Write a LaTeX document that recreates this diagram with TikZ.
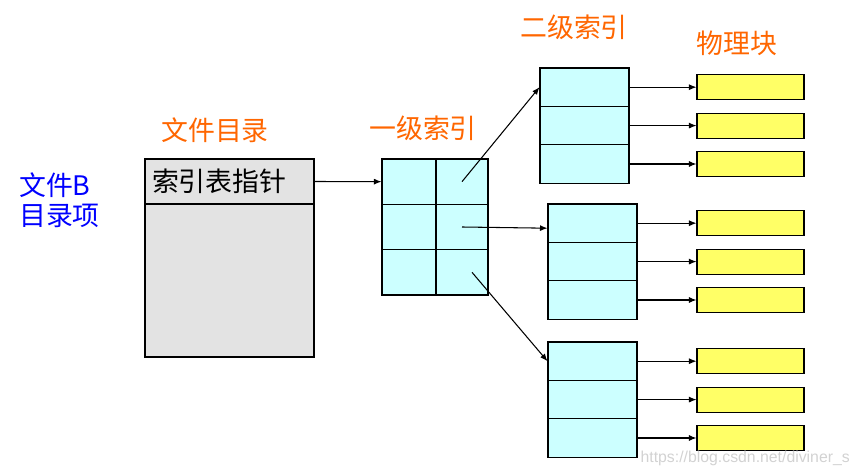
\documentclass[tikz,border=0pt]{standalone}
\usepackage{fontspec}
\newfontfamily\cjk{Noto Sans CJK SC}
\setsansfont{Liberation Sans}
\usetikzlibrary{arrows.meta, positioning}
\definecolor{labelorange}{RGB}{255,102,0}
\definecolor{cellcyan}{RGB}{204,255,255}
\definecolor{blockyellow}{RGB}{255,255,102}
\definecolor{dirgray}{RGB}{227,227,227}
\tikzset{
	cell/.style={draw, fill=cellcyan, line width=0.6pt, inner sep=0pt},
	block/.style={draw, fill=blockyellow, line width=0.6pt, inner sep=0pt,
		minimum width=2.14cm, minimum height=0.5cm},
	dircell/.style={draw, fill=dirgray, line width=0.6pt, inner sep=0pt,
		minimum width=3.38cm},
	title/.style={text=labelorange},
	ptr/.style={-{Latex[length=1.5mm,width=1.2mm]}, line width=0.6pt}
}

\begin{document}
\begin{tikzpicture}[x=0.02cm, y=-0.02cm, font=\cjk\fontsize{15.3}{17}\selectfont]
	\useasboundingbox (0,0) rectangle (865,476);

	% directory entry
	\node[dircell, minimum height=3.06cm] (dirbody) at (229.5,280.5) {};
	\node[dircell, minimum height=0.9cm, text width=3.1cm] (dirtop) at (229.5,181.5) {索引表指针};
	\node[anchor=west, align=left, text=blue] (entry) at (13,200) {文件B\\目录项};

	% first level index
	\foreach \r in {1,2,3} {
		\node[cell, minimum width=1.08cm, minimum height=0.907cm] (la\r) at (409,{159+45.33*(\r-0.5)}) {};
		\node[cell, minimum width=1.04cm, minimum height=0.907cm] (lb\r) at (462,{159+45.33*(\r-0.5)}) {};
	}

	% second level index and physical blocks
	\foreach \g/\x/\y in {a/584.5/68, b/592.5/204, c/592.5/342} {
		\foreach \r in {1,2,3} {
			\node[cell, minimum width=1.78cm, minimum height=0.768cm] (\g\r) at (\x,{\y+38.4*(\r-0.5)}) {};
			\node[block] (\g p\r) at (750.5,{\y+38.4*(\r-0.5)}) {};
			\draw[ptr] (\g\r.east) -- (\g p\r.west);
		}
	}

	% pointers
	\draw[ptr] (dirtop.east) -- (la1.west);
	\draw[ptr] (lb1.center) -- (a1.west);
	\draw[ptr] (lb2.center) -- ([yshift=-0.1cm]b1.west);
	\draw[ptr] ([xshift=0.2cm]lb3.center) -- (c1.west);

	% titles
	\node[title] (dirtitle) at (215,130) {文件目录};
	\node[title] (l1title) at (423,128) {一级索引};
	\node[title] (l2title) at (574,27) {二级索引};
	\node[title] (blktitle) at (737,43) {物理块};

	\node[anchor=east, text=gray!35, font=\sffamily\fontsize{9}{11}\selectfont] (mark) at (856,458) {https://blog.csdn.net/diviner\_s};
\end{tikzpicture}
\end{document}
